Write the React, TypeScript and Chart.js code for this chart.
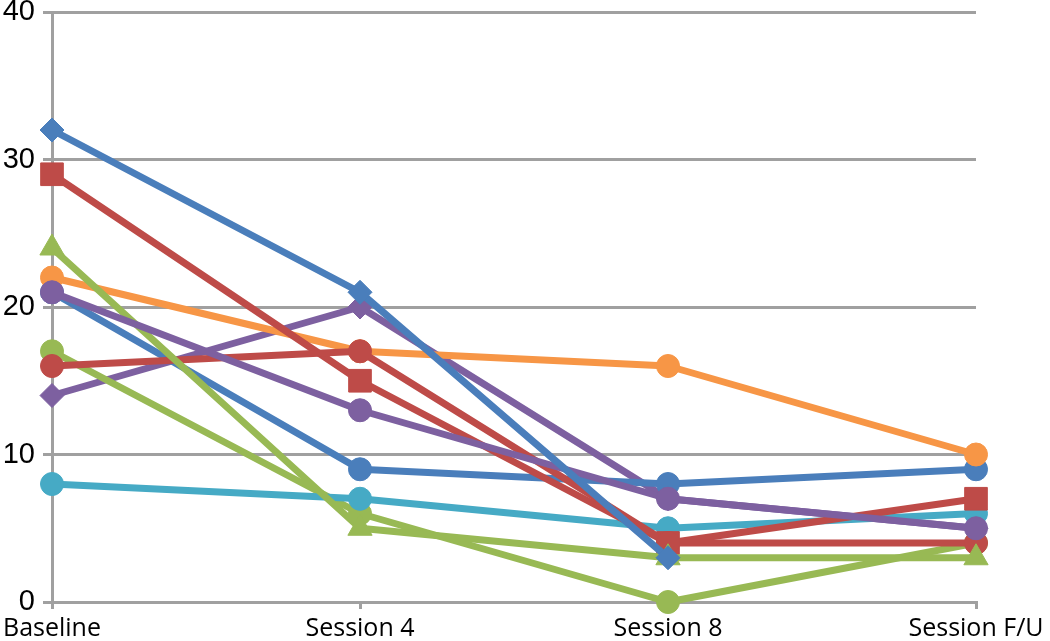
import React, { useEffect, useRef } from "react";
import { Chart, registerables } from "chart.js";

Chart.register(...registerables);

const categories = ["Baseline", "Session 4", "Session 8", "Session F/U"];
const yTicks = [0, 10, 20, 30, 40];

const blueDiamond = [32, 21, 3, null];
const purpleCircle = [21, 13, 7, 5];
const greenTriangle = [24, 5, 3, 3];
const redCircle = [16, 17, 4, 4];
const redSquare = [29, 15, 4, 7];
const orangeCircle = [22, 17, 16, 10];
const blueCircle = [21, 9, 8, 9];
const aquaCircle = [8, 7, 5, 6];
const greenCircle = [17, 6, 0, 4];
const purpleDiamond = [14, 20, 7, 5];

const BLUE = "#4a7ebb";
const RED = "#be4b48";
const GREEN = "#98b954";
const PURPLE = "#7d60a0";
const AQUA = "#46aac5";
const ORANGE = "#f79646";
const GRID = "#a0a0a0";

function ds(label: string, data: (number | null)[], color: string, pointStyle: string, radius: number) {
  return {
    label,
    data,
    borderColor: color,
    backgroundColor: color,
    pointBackgroundColor: color,
    pointBorderColor: color,
    pointBorderWidth: 1,
    pointStyle,
    pointRadius: radius,
    borderWidth: 7,
    borderJoinStyle: "round" as const,
    tension: 0,
    clip: false as const,
  };
}

export default function App() {
  const ref = useRef<HTMLCanvasElement | null>(null);
  useEffect(() => {
    if (!ref.current) return;
    const chart = new Chart(ref.current, {
      type: "line",
      data: {
        labels: categories,
        datasets: [
          ds("s1", blueDiamond, BLUE, "rectRot", 12),
          ds("s9", purpleCircle, PURPLE, "circle", 11.5),
          ds("s3", greenTriangle, GREEN, "triangle", 14),
          ds("s8", redCircle, RED, "circle", 11.5),
          ds("s2", redSquare, RED, "rect", 16),
          ds("s6", orangeCircle, ORANGE, "circle", 11.5),
          ds("s7", blueCircle, BLUE, "circle", 11.5),
          ds("s5", aquaCircle, AQUA, "circle", 11.5),
          ds("s10", greenCircle, GREEN, "circle", 11.5),
          ds("s4", purpleDiamond, PURPLE, "rectRot", 12),
        ],
      },
      options: {
        responsive: false,
        animation: false,
        devicePixelRatio: 1,
        layout: { autoPadding: false, padding: { left: 0, right: 74, top: 12, bottom: 0 } },
        plugins: {
          legend: { display: false },
          tooltip: { enabled: false },
        },
        scales: {
          x: {
            type: "category",
            offset: false,
            grid: {
              display: true,
              drawOnChartArea: false,
              drawTicks: true,
              tickLength: 7,
              color: GRID,
              lineWidth: 3,
            },
            border: { display: true, color: GRID, width: 3 },
            ticks: {
              color: "#000",
              font: { family: "'Open Sans', sans-serif", size: 25 },
              padding: 5,
              maxRotation: 0,
              minRotation: 0,
              autoSkip: false,
            },
            afterFit: (scale: any) => {
              scale.height = 39;
              scale.paddingLeft = 0;
              scale.paddingRight = 0;
            },
          },
          y: {
            min: 0,
            max: 40,
            afterBuildTicks: (scale: any) => {
              scale.ticks = yTicks.map((v) => ({ value: v }));
            },
            grid: {
              color: GRID,
              lineWidth: 3,
              tickLength: 9,
              drawTicks: true,
            },
            border: { display: true, color: GRID, width: 3 },
            ticks: {
              color: "#000",
              font: { family: "'Liberation Sans', Arial, sans-serif", size: 29 },
              padding: 8,
            },
            afterFit: (scale: any) => {
              scale.width = 52;
              scale.paddingTop = 0;
              scale.paddingBottom = 0;
            },
          },
        },
      },
    });
    return () => chart.destroy();
  }, []);
  return (
    <div style={{ position: "absolute", left: 0, top: 0, width: 1050, height: 641, background: "#fff" }}>
      <canvas ref={ref} width={1050} height={641} style={{ width: 1050, height: 641 }} />
    </div>
  );
}
